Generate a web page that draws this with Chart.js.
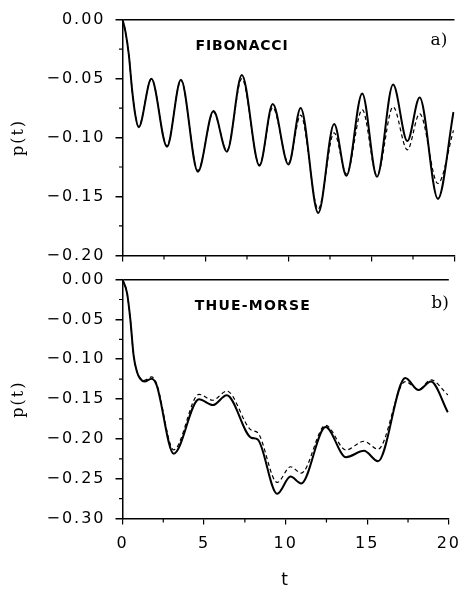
<!DOCTYPE html>
<html>
<head>
<meta charset="utf-8">
<script src="https://cdn.jsdelivr.net/npm/chart.js@4.4.0/dist/chart.umd.min.js"></script>
<style>
  html, body { margin: 0; padding: 0; background: #fff; }
  body { width: 469px; height: 593px; position: relative; overflow: hidden; }
  canvas { position: absolute; left: 0; }
  #fib { top: 0; }
  #tm { top: 260px; }
</style>
</head>
<body>
<canvas id="fib" width="469" height="275"></canvas>
<canvas id="tm" width="469" height="333"></canvas>
<script>
// panel a) Fibonacci chain
const tFib = [0, 0.18, 0.38, 0.58, 0.78, 0.97, 1.74, 2.68, 3.52, 4.54, 5.48, 6.29, 7.19, 8.25, 9.05,
  10.0, 10.73, 11.79, 12.75, 13.49, 14.44, 15.33, 16.3, 17.16, 17.9, 19.0, 19.94];
const fibSolid = [0, -0.0104, -0.0296, -0.0598, -0.0817, -0.0914, -0.0502, -0.1078, -0.051, -0.129, -0.0776, -0.112, -0.047, -0.124, -0.0716,
  -0.123, -0.0749, -0.164, -0.0886, -0.1325, -0.0626, -0.1333, -0.0551, -0.103, -0.066, -0.152, -0.0784];
const fibDashed = [0, -0.0104, -0.0296, -0.0598, -0.0817, -0.0905, -0.0505, -0.107, -0.0515, -0.128, -0.0785, -0.111, -0.05, -0.123, -0.0745,
  -0.1215, -0.081, -0.1607, -0.096, -0.131, -0.0763, -0.132, -0.074, -0.1105, -0.0798, -0.139, -0.094];

// panel b) Thue-Morse chain
const tTM = [0, 0.28, 0.48, 0.68, 0.88, 1.08, 1.35, 1.78, 2.08, 3.14, 4.69, 5.53, 6.39, 7.89, 8.28,
  9.48, 10.3, 10.95, 12.45, 13.7, 14.8, 15.66, 17.33, 18.15, 18.9, 19.94];
const tmSolid = [0, -0.017, -0.05, -0.095, -0.1153, -0.1244, -0.128, -0.1244, -0.1318, -0.2186, -0.1502, -0.1576, -0.1453, -0.1986, -0.2006,
  -0.269, -0.2474, -0.256, -0.185, -0.223, -0.215, -0.228, -0.1236, -0.1387, -0.128, -0.1666];
const tmDashed = [0, -0.017, -0.05, -0.095, -0.115, -0.1235, -0.1265, -0.1222, -0.13, -0.2137, -0.1441, -0.1515, -0.14, -0.189, -0.192,
  -0.2547, -0.235, -0.243, -0.183, -0.214, -0.203, -0.213, -0.128, -0.138, -0.126, -0.1449];

const tTicks = [0, 5, 10, 15, 20];

const labelFont = { family: 'DejaVu Sans', size: 16 };
const fmt = v => (v < 0 ? '\u2212' : '') + Math.abs(v).toFixed(2);

// minor ticks + panel captions
const paperLook = {
  id: 'paperLook',
  beforeDraw(chart) { chart.ctx.letterSpacing = '2px'; },
  afterDraw(chart, args, opts) {
    const ctx = chart.ctx;
    const x = chart.scales.x, y = chart.scales.y;
    ctx.save();
    ctx.strokeStyle = '#000';
    ctx.lineWidth = 1.2;
    ctx.beginPath();
    for (let v = y.min + 0.025; v < y.max; v += 0.05) {
      const py = y.getPixelForValue(v);
      ctx.moveTo(x.left - 3.5, py); ctx.lineTo(x.left, py);
    }
    for (let i = 0; i < tTicks.length - 1; i++) {
      const px = x.getPixelForValue((tTicks[i] + tTicks[i + 1]) / 2);
      ctx.moveTo(px, y.bottom); ctx.lineTo(px, y.bottom + 4);
    }
    ctx.stroke();
    ctx.fillStyle = '#000';
    ctx.textAlign = 'center';
    ctx.textBaseline = 'middle';
    (opts.notes || []).forEach(n => {
      ctx.font = n.font;
      ctx.letterSpacing = n.spacing || '0px';
      ctx.fillText(n.text, n.x, n.y);
    });
    ctx.restore();
  }
};

function panel(id, tArr, solid, dashed, yMin, showX, pad, xHeight, notes) {
  return new Chart(document.getElementById(id), {
    type: 'line',
    data: {
      datasets: [
        { data: tArr.map((t, i) => ({ x: t, y: dashed[i] })), borderColor: '#000', borderWidth: 1.2,
          borderDash: [4, 3], pointRadius: 0, cubicInterpolationMode: 'monotone' },
        { data: tArr.map((t, i) => ({ x: t, y: solid[i] })), borderColor: '#000', borderWidth: 2,
          pointRadius: 0, cubicInterpolationMode: 'monotone' }
      ]
    },
    options: {
      responsive: false,
      animation: false,
      events: [],
      layout: { padding: pad },
      plugins: { legend: { display: false }, tooltip: { enabled: false }, paperLook: { notes } },
      scales: {
        x: {
          type: 'linear', min: 0, max: 20,
          border: { color: '#000', width: 1.5 },
          grid: { drawOnChartArea: false, tickLength: 6, color: '#000', lineWidth: 1.2 },
          ticks: { display: showX, stepSize: 5, padding: 10, color: '#000', font: labelFont, maxRotation: 0 },
          title: { display: showX, text: 't', color: '#000', font: { family: 'DejaVu Sans', size: 17 }, padding: { top: 0, bottom: 2 } },
          afterFit: s => { s.height = xHeight; }
        },
        y: {
          min: yMin, max: 0,
          border: { color: '#000', width: 1.5 },
          grid: { color: c => (c.tick && c.tick.value === 0 ? '#000' : 'rgba(0,0,0,0)'), tickColor: '#000', lineWidth: 1.5, tickLength: 7 },
          ticks: { stepSize: 0.05, padding: 10, color: '#000', font: labelFont, callback: fmt },
          title: { display: true, text: 'p(t)', color: '#000', font: { family: 'DejaVu Serif', size: 16 }, padding: { top: 9, bottom: 0 } },
          afterFit: s => { s.width = 122.5; }
        }
      }
    },
    plugins: [paperLook]
  });
}

panel('fib', tFib, fibSolid, fibDashed, -0.2, false,
  { top: 14.5, right: 14.5, bottom: 0, left: 0 }, 17.5,
  [{ text: 'FIBONACCI', x: 242, y: 46, font: 'bold 14px "DejaVu Sans"', spacing: '0.8px' },
   { text: 'a)', x: 439, y: 41, font: '17px "DejaVu Serif"' }]);

panel('tm', tTM, tmSolid, tmDashed, -0.3, true,
  { top: 15.5, right: 14.5, bottom: 0, left: 0 }, 74.5,
  [{ text: 'THUE-MORSE', x: 253, y: 46, font: 'bold 14px "DejaVu Sans"', spacing: '1.2px' },
   { text: 'b)', x: 440, y: 44, font: '17px "DejaVu Serif"' }]);
</script>
</body>
</html>
